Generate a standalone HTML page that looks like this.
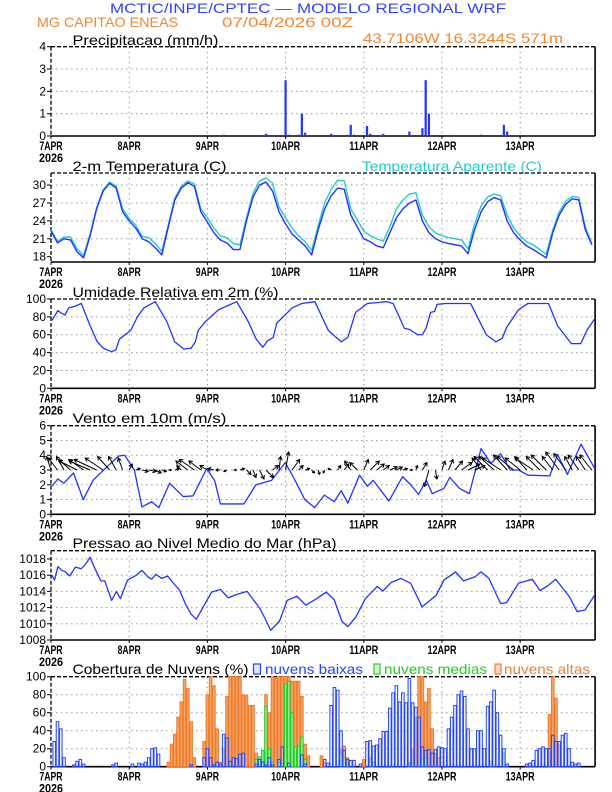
<!DOCTYPE html>
<html><head><meta charset="utf-8">
<style>
html,body{margin:0;padding:0;background:#fff;}
svg{display:block;font-family:"Liberation Sans",sans-serif;}
</style></head>
<body>
<svg id="chart" width="612" height="792" viewBox="0 0 612 792" xmlns="http://www.w3.org/2000/svg">
<rect x="0" y="0" width="612" height="792" fill="#fff"/>
<text x="110" y="13" font-size="14" fill="#3344ff" textLength="396" lengthAdjust="spacingAndGlyphs">MCTIC/INPE/CPTEC — MODELO REGIONAL WRF</text>
<text x="37" y="27" font-size="14" fill="#ee8833" textLength="141" lengthAdjust="spacingAndGlyphs">MG CAPITAO ENEAS</text>
<text x="222" y="27" font-size="14" fill="#ee8833" textLength="131" lengthAdjust="spacingAndGlyphs">07/04/2026 00Z</text>
<text x="363" y="43" font-size="14" fill="#ee8833" textLength="200" lengthAdjust="spacingAndGlyphs">43.7106W 16.3244S 571m</text>
<text x="72.5" y="45" font-size="14" fill="#000" textLength="146" lengthAdjust="spacingAndGlyphs">Precipitacao (mm/h)</text>
<text x="72.5" y="171" font-size="14" fill="#000" textLength="154" lengthAdjust="spacingAndGlyphs">2-m Temperatura (C)</text>
<text x="362" y="171" font-size="14" fill="#22cccc" textLength="180" lengthAdjust="spacingAndGlyphs">Temperatura Aparente (C)</text>
<text x="72.5" y="297" font-size="14" fill="#000" textLength="206" lengthAdjust="spacingAndGlyphs">Umidade Relativa em 2m (%)</text>
<text x="72.5" y="423" font-size="14" fill="#000" textLength="154" lengthAdjust="spacingAndGlyphs">Vento em 10m (m/s)</text>
<text x="72.5" y="548" font-size="14" fill="#000" textLength="264" lengthAdjust="spacingAndGlyphs">Pressao ao Nivel Medio do Mar (hPa)</text>
<text x="72.5" y="674" font-size="14" fill="#000" textLength="176" lengthAdjust="spacingAndGlyphs">Cobertura de Nuvens (%)</text>
<rect x="253.5" y="664" width="7" height="10" fill="#dde4ff" stroke="#2244ff" stroke-width="1.2"/>
<text x="265" y="674" font-size="14" fill="#2244ff" textLength="98" lengthAdjust="spacingAndGlyphs">nuvens baixas</text>
<rect x="374" y="664" width="6" height="10" fill="#ccffcc" stroke="#22cc22" stroke-width="1.2"/>
<text x="384" y="674" font-size="14" fill="#22cc22" textLength="103" lengthAdjust="spacingAndGlyphs">nuvens medias</text>
<rect x="495" y="664" width="6" height="10" fill="#fbd3b0" stroke="#f08030" stroke-width="1.2"/>
<text x="504" y="674" font-size="14" fill="#f08030" textLength="86" lengthAdjust="spacingAndGlyphs">nuvens altas</text>
</svg>
<script>
// ---------- data ----------
const dayLabels = ["7APR","8APR","9APR","10APR","11APR","12APR","13APR"];
const yearLabel = "2026";

const precipHours = [44,53,66,72,73,76,77,78,86,91,92,93,97,98,101,102,110,114,115,116,122,123,132,138,139,140];
const precipValues = [0.05,0.06,0.1,2.5,0.06,0.06,1.0,0.15,0.1,0.05,0.5,0.06,0.45,0.1,0.05,0.1,0.2,0.35,2.5,1.0,0.05,0.05,0.06,0.05,0.5,0.2];

const tempValues = [22.3,20.3,21,20.8,18.8,17.8,21.5,26,29,30.3,29.5,25.5,24,22.8,21,20.5,19.5,18.3,23,27.5,29.5,30.4,29.8,25.5,23.8,22,20.8,20.3,19.2,19.2,24,28,30,30.5,29,25.5,23.5,21.8,20.8,19.8,18.3,22.5,26,28.2,29.5,29.3,25,23,21,20.5,19.8,19.5,22,24.5,26,27,27.5,24,22,21,20.5,20.2,20,19.8,18.5,22.5,25.5,27.2,27.9,27.5,24,22,20.8,19.8,19.2,18.5,17.8,22,25,26.8,27.7,27.5,22.5,20];
const apparentValues = [22.5,20.6,21.3,21.3,19.3,18.2,21.8,26.2,29.2,30.5,29.8,26,24.4,23.3,21.4,21.2,20.2,18.9,23.3,27.8,29.8,30.7,30.2,26,24.5,22.8,21.5,21.2,20.2,20,24.5,28.6,30.7,31.2,30.3,26.3,24.5,22.8,21.5,20.5,19,23.2,27,29.3,30.8,30.7,26,24.2,22.3,21.5,21,20.6,23,26,27.5,28.5,28.7,25,23,22,21.5,21.2,21,20.8,19.3,23.5,26.5,28,28.5,28.2,25,22.8,21.5,20.5,20,19.2,18.4,22.5,25.5,27.3,28.1,27.9,23,20.2];
const tempStepHours = 2;

const rhHours = [0.3,2.1,3.3,4.3,5.4,7.5,9.3,12,14.2,16,18.6,19.9,21,24.5,26.5,28.5,32,35.5,38,40.8,43,44.3,45.2,47.5,51.4,57,60.5,63,65,66.4,68.2,69.3,74,77,81,85.1,89.1,91.1,93.5,97.1,103,105,108.5,110,112.5,114,115.2,116.5,117.7,118.5,121,128.8,133.6,136.6,138.5,139.8,143.5,146.4,152.7,155.5,159.7,162.6,164.5,166.9];
const rhValues = [76,87,84,82,90,92,95,70,52,45,41,43,55,65,80,90,97,75,52,44,45,52,65,75,88,97,75,55,46,53,57,73,90,95,97,65,52,57,85,95,97,95,67,66,60,60,68,85,86,94,95,95,60,52,56,68,88,95,95,70,50,50,65,78];

const windHours = [0.3,2.1,3.9,6.9,9.9,12.9,17.1,20.8,22.6,25.6,27.9,30.9,33.1,36.4,40.6,43.6,47.8,50.2,52,59.2,62.9,67.7,71.9,74.9,77.9,80.9,83.9,86.9,89.1,91.1,94.7,97.1,98.9,103.7,107.9,110.4,112.8,115.2,117,120.6,122.4,125.4,128.4,132,135,138,141,143.5,146.4,153.1,155.5,158.5,162.7,166.9];
const windSpeed = [1.9,2.4,2.1,2.8,1.0,2.3,3.2,3.95,4.0,3.0,0.5,0.85,0.45,2.1,1.2,1.25,3.1,2.3,0.7,0.7,2.0,2.3,3.5,2.3,1.0,0.45,1.3,0.85,1.6,0.75,2.65,1.9,2.3,0.9,2.55,2.0,1.35,2.3,1.4,1.75,2.5,1.75,1.4,4.45,3.45,4.1,3.0,3.0,2.65,2.6,4.05,2.7,4.75,3.1];
const windU = [-0.3,-0.6,-0.5,-0.8,-1.2,-1.0,-1.4,-1.5,-1.2,-0.8,-0.5,-0.3, 0.2,0.3,0.4,0.5,0.4,0.3,0.2,0.3,-0.3,-0.8,-1.0,-0.8, -0.5,-0.4,-0.3,-0.2,0.2,0.3,0.3,0.2,0.3,0.5,0.4,0.1, 0.2,0.5,0.3,0.3,0.2,0.1,-0.1,-0.2,0.2,0.3,-0.4,-0.5, 0.3,0.6,0.5,0.4,0.5,0.4,0.3,0.2,0.1,0.3,-0.3,0.1, 0.2,0.3,0.5,0.7,0.8,0.7,-0.6,-0.9,-1.0,-1.2,-0.9,-1.1, -1.0,-0.8,-1.2,-0.9,-1.0,-0.7,-0.9,-0.8,-0.5,-0.7,-0.6,-0.8];
const windV = [0.9,0.8,0.9,0.7,0.6,0.7,0.6,0.7,0.8,0.9,0.9,0.8, 0.4,0.1,-0.1,-0.1,-0.2,-0.1,0,0.1,0.3,0.6,0.7,0.6, 0.3,0.1,0,-0.1,0,0.1,-0.3,-0.5,-0.6,-0.5,0.3,0.9, 1.2,0.7,0.3,0.1,-0.2,-0.3,-0.2,0.1,0.3,0.4,0.6,0.5, 0.7,0.6,0.4,0.3,0.2,0.2,0.1,0,0.3,0.5,-1.1,-0.6, 0.6,0.7,0.6,0.5,0.4,0.3,0.8,0.9,0.9,0.8,1.0,0.9, 0.8,0.9,0.8,0.9,1.0,0.9,1.2,1.1,0.9,1.0,0.9,1.0];
const windStepHours = 2;

const pressHours = [0.3,1.1,2.1,3.3,4.5,5.7,7.5,9.3,10.5,12,13.5,15.3,16.5,18.6,20.1,21.3,23.5,26.2,27.9,29.7,30.9,32.2,34,35.8,37.6,39.4,41.2,43,44.6,47.3,49.3,52,54.4,56.8,60.2,64.1,65.9,67.4,70.1,72.5,75.5,78.2,81.5,84.5,86.9,89.3,91.1,93.5,96.5,100.1,101.9,104.4,107.4,110.4,113.9,115.8,118.2,120.6,124.2,126.6,130.2,132,134.4,138,139.8,143.5,147.7,150.1,152.5,154.9,159.1,161.5,163.9,166.9];
const pressValues = [1016.0,1015.4,1017.05,1016.6,1016.4,1015.9,1017.0,1016.8,1017.3,1018.2,1016.8,1015.3,1015.3,1012.9,1014.0,1013.1,1015.4,1016.0,1016.6,1015.8,1015.5,1016.1,1015.6,1015.9,1015.0,1014.2,1012.5,1011.2,1010.55,1012.5,1013.9,1014.25,1013.2,1013.6,1014.0,1011.9,1010.5,1009.2,1010.3,1012.9,1013.4,1012.3,1013.1,1013.9,1013.0,1010.3,1009.65,1010.8,1013.1,1014.6,1014.05,1015.1,1015.6,1015.0,1012.1,1012.7,1013.5,1015.4,1016.4,1015.3,1015.8,1016.4,1015.6,1012.5,1012.6,1015.0,1015.5,1014.1,1014.7,1015.5,1013.35,1011.5,1011.7,1013.55];

const lowHours = [1,2,3,4,7,8,9,10,19,20,25,27,28,29,30,31,32,33,43,47,48,49,50,51,52,53,54,55,56,57,58,59,63,64,65,66,67,68,70,71,73,77,78,84,85,86,87,88,89,90,91,92,93,95,97,98,99,100,101,102,103,104,105,106,107,108,109,110,111,112,113,114,115,116,117,118,119,120,121,122,123,124,125,126,127,128,129,130,131,132,133,134,135,136,137,138,139,140,146,147,148,149,150,151,152,153,154,155,156,157,158,159,160,161,162];
const lowValues = [28,50,42,10,2,6,8,3,2,4,3,4,3,5,10,20,21,14,2,10,20,10,2,5,3,36,32,6,10,9,14,15,3,8,5,2,10,2,8,22,4,13,3,8,4,68,88,85,40,18,8,7,7,3,28,29,23,24,31,39,39,65,82,90,72,82,71,98,71,66,55,22,18,19,15,19,22,21,20,42,55,68,80,84,78,42,20,20,40,40,20,67,72,85,60,35,20,3,3,4,7,18,20,22,20,20,35,28,28,35,37,20,5,3,4];
const midHours = [63,64,65,66,67,68,70,71,72,73,74,75,76,77,78,89,90,98,99,110,111,114,115,135,139];
const midValues = [8,11,18,67,20,5,5,4,92,95,60,22,23,33,8,15,10,6,5,2,4,8,10,6,15];
const highHours = [36,37,38,39,40,41,42,43,44,47,48,49,50,51,52,53,54,55,56,57,58,59,60,61,62,63,64,65,66,67,68,69,70,71,72,73,74,75,76,77,78,79,83,84,89,90,91,96,98,110,111,112,113,114,115,116,117,118,119,153,154,155,156];
const highValues = [5,25,36,55,72,97,87,50,10,28,80,100,90,42,5,20,78,100,100,100,100,80,79,68,68,15,5,10,80,60,100,98,100,100,100,100,95,95,95,78,25,12,12,5,20,23,10,8,10,5,20,55,100,100,72,87,42,15,10,58,100,76,25];

// ---------- axes ----------
const X0 = 51, PPH = 3.258, HMAX = 167;
function xh(h){ return X0 + h*PPH; }
const panels = {
  precip:{top:46.7,bottom:136,min:0,max:4,ticks:[0,1,2,3,4]},
  temp:{top:173,bottom:262,min:17.11,max:32.02,ticks:[18,21,24,27,30]},
  rh:{top:299,bottom:388.3,min:0,max:100,ticks:[0,20,40,60,80,100]},
  wind:{top:425.7,bottom:514.3,min:0,max:6,ticks:[0,1,2,3,4,5,6]},
  press:{top:550.7,bottom:640,min:1008,max:1019.02,ticks:[1008,1010,1012,1014,1016,1018]},
  cloud:{top:676.7,bottom:766.7,min:0,max:100,ticks:[0,20,40,60,80,100]}
};
function yv(p,v){ return p.bottom - (v-p.min)/(p.max-p.min)*(p.bottom-p.top); }

const svg = document.getElementById('chart');
const NS = "http://www.w3.org/2000/svg";
function mk(tag, attrs, parent){
  const e = document.createElementNS(NS, tag);
  for (const k in attrs) e.setAttribute(k, attrs[k]);
  (parent||svg).appendChild(e);
  return e;
}

function drawFrame(key){
  const p = panels[key];
  const g = mk('g', {});
  
  
  const xr = xh(HMAX);
  // grid
  for (let d=1; d<dayLabels.length; d++){
    const gl = mk('line', {x1:xh(d*24), x2:xh(d*24), y1:p.top, y2:p.bottom, stroke:'#9a9a9a', 'stroke-width':1, 'stroke-dasharray':'1.5 3.5'}, g);
    
    
  }
  p.ticks.forEach(t=>{
    const y = yv(p,t);
    if (t!==p.ticks[0] && y > p.top+1){
      const gl = mk('line', {x1:X0, x2:xr, y1:y, y2:y, stroke:'#9a9a9a', 'stroke-width':1, 'stroke-dasharray':'1.5 3.5'}, g);
      
      
    }
    const tk = mk('line', {x1:X0-4, x2:X0, y1:y, y2:y, stroke:'#000', 'stroke-width':1}, g);
    
    
    const tl = mk('text', {x:X0-5, y:y+4, 'font-size':12, 'text-anchor':'end', fill:'#000'}, g);
    
    
    tl.textContent = String(t);
  });
  // borders
  const bt = mk('line', {x1:X0, x2:xr, y1:p.top, y2:p.top, stroke:'#000', 'stroke-width':1.3, 'stroke-dasharray':'4 2'}, g);
  
  
  const bl = mk('line', {x1:X0, x2:X0, y1:p.top, y2:p.bottom, stroke:'#000', 'stroke-width':1.3, 'stroke-dasharray':'4 2'}, g);
  
  
  const br = mk('line', {x1:xr, x2:xr, y1:p.top, y2:p.bottom, stroke:'#000', 'stroke-width':1.6}, g);
  
  
  const bb = mk('line', {x1:X0, x2:xr, y1:p.bottom, y2:p.bottom, stroke:'#000', 'stroke-width':1.6}, g);
  
  
  // x labels
  dayLabels.forEach((lab,i)=>{
    const x = xh(i*24);
    const xt = mk('line', {x1:x, x2:x, y1:p.bottom, y2:p.bottom+3, stroke:'#000', 'stroke-width':1}, g);
    
    
    const tl = mk('text', {x:x, y:p.bottom+14, 'font-size':12, 'font-weight':'bold', 'text-anchor':'middle', fill:'#000', textLength: lab.length*5.8, lengthAdjust:'spacingAndGlyphs'}, g);
    
    
    tl.textContent = lab;
  });
  const yl = mk('text', {x:xh(0), y:p.bottom+26, 'font-size':12, 'font-weight':'bold', 'text-anchor':'middle', fill:'#000', textLength:24, lengthAdjust:'spacingAndGlyphs'}, g);
  
  
  yl.textContent = yearLabel;
  return g;
}

function drawLine(key, hours, vals, color, name, width){
  const p = panels[key];
  const pts = vals.map((v,i)=> xh(hours[i]).toFixed(2) + ',' + yv(p,v).toFixed(2)).join(' ');
  const pl = mk('polyline', {points:pts, fill:'none', stroke:color, 'stroke-width':width||1.4, 'stroke-linejoin':'round'});
  
  
}

function drawBars(key, hours, vals, fill, stroke, name, w){
  const p = panels[key];
  const g = mk('g', {});
  
  
  hours.forEach((h,i)=>{
    const y = yv(p, vals[i]);
    const r = mk('rect', {x:xh(h)-w/2, y:y, width:w, height:Math.max(0.6, p.bottom-y), fill:fill, stroke:stroke, 'stroke-width': stroke==='none'?0:1}, g);
    
    
  });
}

Object.keys(panels).forEach(k=>drawFrame(k));

// precipitation
drawBars('precip', precipHours, precipValues, '#2233ff', 'none', 'precip-bar', 2.2);

// temperature
const tempHours = tempValues.map((_,i)=>i*tempStepHours);
drawLine('temp', tempHours, apparentValues, '#22cccc', 'apparent-temp-line', 1.4);
drawLine('temp', tempHours, tempValues, '#2233ff', 'temp-line', 1.4);

// humidity
drawLine('rh', rhHours, rhValues, '#2233ff', 'rh-line', 1.3);

// wind speed
drawLine('wind', windHours, windSpeed, '#2233ff', 'wind-speed-line', 1.3);
// wind vectors
(function(){
  const p = panels.wind;
  const g = mk('g', {});
  
  
  const base = yv(p, 3), sc = 15;
  windU.forEach((u,i)=>{
    const v = windV[i];
    const x1 = xh(i*windStepHours), y1 = base;
    const x2 = x1 + u*sc, y2 = y1 - v*sc;
    const len = Math.hypot(x2-x1, y2-y1) || 1;
    const ux = (x2-x1)/len, uy = (y2-y1)/len;
    const hl = Math.min(3.5, len*0.5);
    const ax = x2 - ux*hl, ay = y2 - uy*hl;
    const d = 'M'+x1.toFixed(1)+','+y1.toFixed(1)+'L'+x2.toFixed(1)+','+y2.toFixed(1)+
      'M'+(ax - uy*hl*0.6).toFixed(1)+','+(ay + ux*hl*0.6).toFixed(1)+'L'+x2.toFixed(1)+','+y2.toFixed(1)+
      'L'+(ax + uy*hl*0.6).toFixed(1)+','+(ay - ux*hl*0.6).toFixed(1);
    const a = mk('path', {d:d, fill:'none', stroke:'#000', 'stroke-width':1}, g);
    
    
  });
})();

// pressure
drawLine('press', pressHours, pressValues, '#2233ff', 'pressure-line', 1.3);

// clouds
drawBars('cloud', highHours, highValues, '#f5a465', '#f07a2a', 'cloud-high-bar', 2.6);
drawBars('cloud', midHours, midValues, '#9cf09c', '#22cc22', 'cloud-mid-bar', 2.4);
drawBars('cloud', lowHours, lowValues, 'rgba(215,222,255,0.35)', '#2244ff', 'cloud-low-bar', 2.6);
</script>
</body></html>
